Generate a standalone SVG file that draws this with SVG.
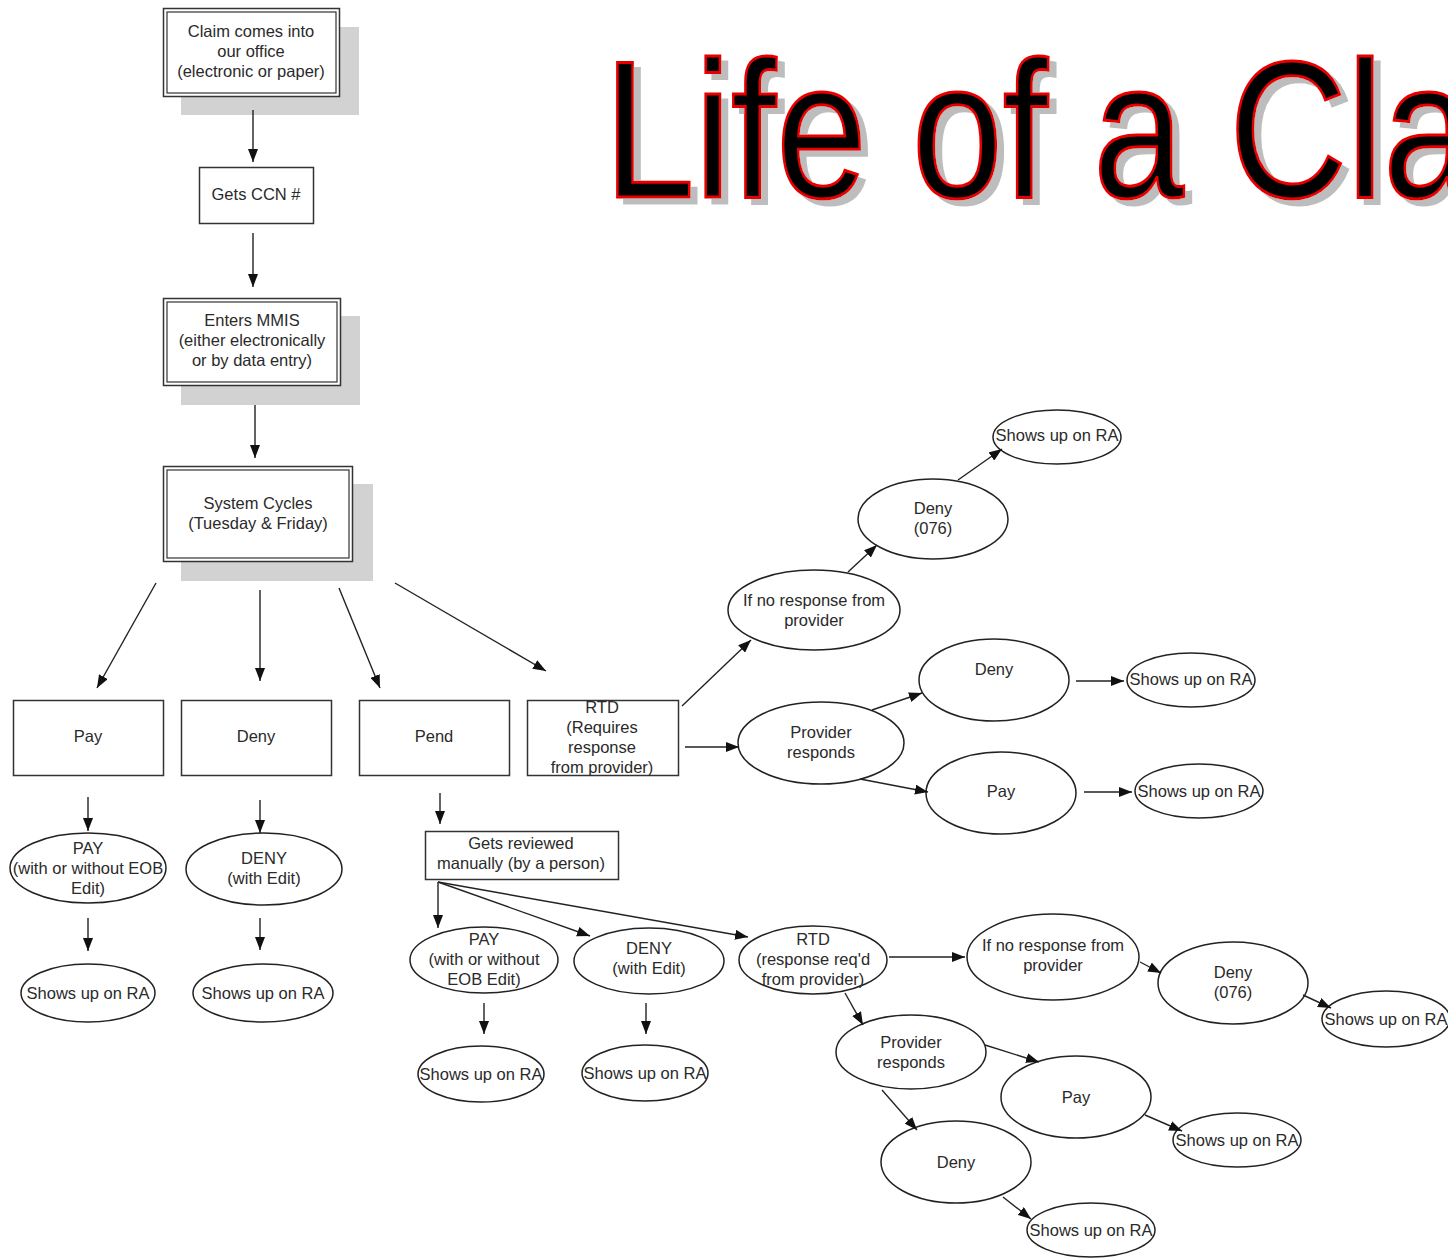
<svg xmlns="http://www.w3.org/2000/svg" width="1448" height="1258" viewBox="0 0 1448 1258">
<defs>
<marker id="ah" markerUnits="userSpaceOnUse" markerWidth="13" markerHeight="10" viewBox="0 0 13 10" refX="13" refY="5" orient="auto">
<path d="M0,0 L13,5 L0,10 z" fill="#111"/>
</marker>
<filter id="tshadow" x="-5%" y="-10%" width="115%" height="125%">
<feOffset in="SourceAlpha" dx="7" dy="6" result="off"/>
<feFlood flood-color="#bdbdbd" result="col"/>
<feComposite in="col" in2="off" operator="in" result="sh"/>
<feMerge><feMergeNode in="sh"/><feMergeNode in="SourceGraphic"/></feMerge>
</filter>
</defs>
<style>
text{font-family:"Liberation Sans",Arial,sans-serif;font-size:16.5px;fill:#2a2a2a;text-anchor:middle}
.box{fill:#fff;stroke:#333;stroke-width:1.5}
.shadow{fill:#d2d2d2}
.ell{fill:#fff;stroke:#222;stroke-width:1.5}
.con line{stroke:#222;stroke-width:1.4;marker-end:url(#ah)}
.title{font-size:195px;text-anchor:start;fill:#000;stroke:#e80000;stroke-width:3}
</style>
<rect width="1448" height="1258" fill="#fff"/>

<g id="title" filter="url(#tshadow)">
<text class="title" transform="translate(604,197) scale(0.836,1)">Life of a Cla</text>
</g>

<g id="n-claim">
<rect class="shadow" x="181" y="27" width="178" height="88"/>
<rect class="box" x="163.5" y="8.5" width="176" height="88"/>
<rect x="167" y="12" width="169" height="81" fill="none" stroke="#333" stroke-width="1.2"/>
<text x="251" y="37">Claim comes into</text>
<text x="251" y="57">our office</text>
<text x="251" y="77">(electronic or paper)</text>
</g>

<g id="n-ccn">
<rect class="box" x="199.5" y="167.5" width="114" height="56"/>
<text x="256" y="200">Gets CCN #</text>
</g>

<g id="n-mmis">
<rect class="shadow" x="181" y="316" width="179" height="89"/>
<rect class="box" x="163.5" y="298.5" width="177" height="87"/>
<rect x="167" y="302" width="170" height="80" fill="none" stroke="#333" stroke-width="1.2"/>
<text x="252" y="326">Enters MMIS</text>
<text x="252" y="346">(either electronically</text>
<text x="252" y="366">or by data entry)</text>
</g>

<g id="n-cycles">
<rect class="shadow" x="181" y="484" width="192" height="97"/>
<rect class="box" x="163.5" y="466.5" width="189" height="95"/>
<rect x="167" y="470" width="182" height="88" fill="none" stroke="#333" stroke-width="1.2"/>
<text x="258" y="509">System Cycles</text>
<text x="258" y="529">(Tuesday &amp; Friday)</text>
</g>

<g id="n-pay">
<rect class="box" x="13.5" y="700.5" width="150" height="75"/>
<text x="88" y="742">Pay</text>
</g>
<g id="n-deny">
<rect class="box" x="181.5" y="700.5" width="150" height="75"/>
<text x="256" y="742">Deny</text>
</g>
<g id="n-pend">
<rect class="box" x="359.5" y="700.5" width="150" height="75"/>
<text x="434" y="742">Pend</text>
</g>
<g id="n-rtd">
<rect class="box" x="527.5" y="700.5" width="151" height="75"/>
<text x="602" y="713">RTD</text>
<text x="602" y="733">(Requires</text>
<text x="602" y="753">response</text>
<text x="602" y="773">from provider)</text>
</g>

<g id="n-pay2">
<ellipse class="ell" cx="88" cy="868" rx="78" ry="35"/>
<text x="88" y="854">PAY</text>
<text x="88" y="874">(with or without EOB</text>
<text x="88" y="894">Edit)</text>
</g>
<g id="n-ra1">
<ellipse class="ell" cx="88" cy="993" rx="67" ry="29"/>
<text x="88" y="999">Shows up on RA</text>
</g>
<g id="n-deny2">
<ellipse class="ell" cx="264" cy="869" rx="78" ry="36"/>
<text x="264" y="864">DENY</text>
<text x="264" y="884">(with Edit)</text>
</g>
<g id="n-ra2">
<ellipse class="ell" cx="263" cy="993" rx="70" ry="29"/>
<text x="263" y="999">Shows up on RA</text>
</g>

<g id="n-review">
<rect class="box" x="425.5" y="831.5" width="193" height="48"/>
<text x="521" y="849">Gets reviewed</text>
<text x="521" y="869">manually (by a person)</text>
</g>
<g id="n-pay3">
<ellipse class="ell" cx="484" cy="960" rx="74" ry="33"/>
<text x="484" y="945">PAY</text>
<text x="484" y="965">(with or without</text>
<text x="484" y="985">EOB Edit)</text>
</g>
<g id="n-deny3">
<ellipse class="ell" cx="649" cy="961" rx="75" ry="33"/>
<text x="649" y="954">DENY</text>
<text x="649" y="974">(with Edit)</text>
</g>
<g id="n-rtd3">
<ellipse class="ell" cx="813" cy="960" rx="74" ry="34"/>
<text x="813" y="945">RTD</text>
<text x="813" y="965">(response req'd</text>
<text x="813" y="985">from provider)</text>
</g>
<g id="n-ra3">
<ellipse class="ell" cx="481" cy="1074" rx="63" ry="28"/>
<text x="481" y="1080">Shows up on RA</text>
</g>
<g id="n-ra4">
<ellipse class="ell" cx="645" cy="1073" rx="63" ry="28"/>
<text x="645" y="1079">Shows up on RA</text>
</g>
<g id="n-nores3">
<ellipse class="ell" cx="1053" cy="957" rx="86" ry="43"/>
<text x="1053" y="951">If no response from</text>
<text x="1053" y="971">provider</text>
</g>
<g id="n-deny076b">
<ellipse class="ell" cx="1233" cy="983" rx="75" ry="41"/>
<text x="1233" y="978">Deny</text>
<text x="1233" y="998">(076)</text>
</g>
<g id="n-ra5">
<ellipse class="ell" cx="1386" cy="1019" rx="64" ry="28"/>
<text x="1386" y="1025">Shows up on RA</text>
</g>
<g id="n-resp3">
<ellipse class="ell" cx="911" cy="1052" rx="75" ry="37"/>
<text x="911" y="1048">Provider</text>
<text x="911" y="1068">responds</text>
</g>
<g id="n-pay4">
<ellipse class="ell" cx="1076" cy="1097" rx="75" ry="41"/>
<text x="1076" y="1103">Pay</text>
</g>
<g id="n-ra6">
<ellipse class="ell" cx="1237" cy="1140" rx="64" ry="27"/>
<text x="1237" y="1146">Shows up on RA</text>
</g>
<g id="n-deny4">
<ellipse class="ell" cx="956" cy="1162" rx="75" ry="41"/>
<text x="956" y="1168">Deny</text>
</g>
<g id="n-ra7">
<ellipse class="ell" cx="1091" cy="1230" rx="64" ry="27"/>
<text x="1091" y="1236">Shows up on RA</text>
</g>

<g id="n-nores1">
<ellipse class="ell" cx="814" cy="610" rx="86" ry="40"/>
<text x="814" y="606">If no response from</text>
<text x="814" y="626">provider</text>
</g>
<g id="n-deny076a">
<ellipse class="ell" cx="933" cy="519" rx="75" ry="40"/>
<text x="933" y="514">Deny</text>
<text x="933" y="534">(076)</text>
</g>
<g id="n-ra8">
<ellipse class="ell" cx="1057" cy="437" rx="64" ry="27"/>
<text x="1057" y="441">Shows up on RA</text>
</g>
<g id="n-resp1">
<ellipse class="ell" cx="821" cy="743" rx="83" ry="41"/>
<text x="821" y="738">Provider</text>
<text x="821" y="758">responds</text>
</g>
<g id="n-deny5">
<ellipse class="ell" cx="994" cy="680" rx="75" ry="41"/>
<text x="994" y="675">Deny</text>
</g>
<g id="n-ra9">
<ellipse class="ell" cx="1191" cy="680" rx="64" ry="27"/>
<text x="1191" y="685">Shows up on RA</text>
</g>
<g id="n-pay5">
<ellipse class="ell" cx="1001" cy="793" rx="75" ry="41"/>
<text x="1001" y="797">Pay</text>
</g>
<g id="n-ra10">
<ellipse class="ell" cx="1199" cy="791" rx="64" ry="27"/>
<text x="1199" y="797">Shows up on RA</text>
</g>

<g id="connectors" class="con">
<line x1="253" y1="110" x2="253" y2="162"/>
<line x1="253" y1="233" x2="253" y2="287"/>
<line x1="255" y1="405" x2="255" y2="458"/>
<line x1="156" y1="583" x2="97" y2="688"/>
<line x1="260" y1="590" x2="260" y2="681"/>
<line x1="339" y1="588" x2="380" y2="688"/>
<line x1="395" y1="583" x2="546" y2="671"/>
<line x1="88" y1="797" x2="88" y2="831"/>
<line x1="260" y1="800" x2="260" y2="833"/>
<line x1="88" y1="918" x2="88" y2="951"/>
<line x1="260" y1="918" x2="260" y2="950"/>
<line x1="440" y1="793" x2="440" y2="824"/>
<line x1="438" y1="882" x2="438" y2="928"/>
<line x1="438" y1="882" x2="590" y2="936"/>
<line x1="438" y1="882" x2="748" y2="937"/>
<line x1="484" y1="1003" x2="484" y2="1034"/>
<line x1="646" y1="1003" x2="646" y2="1034"/>
<line x1="889" y1="957" x2="965" y2="957"/>
<line x1="1140" y1="962" x2="1161" y2="973"/>
<line x1="1303" y1="995" x2="1331" y2="1008"/>
<line x1="845" y1="993" x2="863" y2="1025"/>
<line x1="985" y1="1045" x2="1039" y2="1062"/>
<line x1="1145" y1="1115" x2="1182" y2="1131"/>
<line x1="882" y1="1090" x2="917" y2="1130"/>
<line x1="1003" y1="1197" x2="1031" y2="1219"/>
<line x1="682" y1="706" x2="751" y2="640"/>
<line x1="848" y1="572" x2="877" y2="545"/>
<line x1="958" y1="480" x2="1002" y2="449"/>
<line x1="685" y1="747" x2="739" y2="747"/>
<line x1="872" y1="710" x2="922" y2="693"/>
<line x1="1076" y1="681" x2="1124" y2="681"/>
<line x1="860" y1="779" x2="928" y2="792"/>
<line x1="1084" y1="792" x2="1132" y2="792"/>
</g>
</svg>
